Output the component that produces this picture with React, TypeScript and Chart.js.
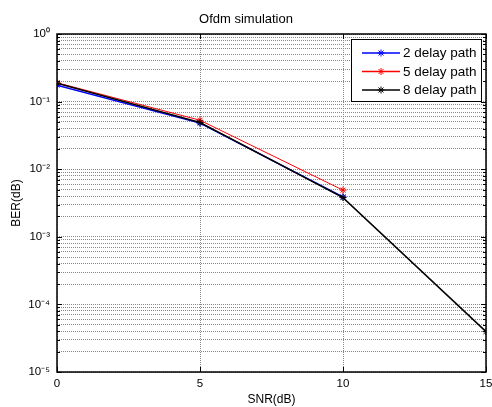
import React, { useEffect, useRef } from 'react';
import { Chart, registerables } from 'chart.js';

Chart.register(...registerables);

// ---- data ----
const snr = [0, 5, 10, 15];
const ber2 = [0.175, 0.048, 0.0039];
const ber5 = [0.19, 0.053, 0.0049];
const ber8 = [0.187, 0.049, 0.0038, 0.0000396];
const seriesLabels = ['2 delay path', '5 delay path', '8 delay path'];
const seriesColors = ['#0000ff', '#ff0000', '#000000'];
const xTickValues = [0, 5, 10, 15];
const yDecades = [1e-5, 1e-4, 1e-3, 1e-2, 1e-1, 1];
const yTickLabels = ['10\u207B\u2075', '10\u207B\u2074', '10\u207B\u00B3', '10\u207B\u00B2', '10\u207B\u00B9', '10\u2070'];
const minorMultipliers = [2, 3, 4, 5, 6, 7, 8, 9];

const FONT = "'Liberation Sans', Arial, sans-serif";

const toPoints = (vals: number[]) => vals.map((v, i) => ({ x: snr[i], y: v }));

const isDecade = (v: number) => yDecades.findIndex((d) => Math.abs(d - v) / d < 1e-6);

function drawStar(ctx: CanvasRenderingContext2D, x: number, y: number, r: number) {
  ctx.beginPath();
  ctx.moveTo(x - r, y); ctx.lineTo(x + r, y);
  ctx.moveTo(x, y - r); ctx.lineTo(x, y + r);
  const d = r * 0.7071;
  ctx.moveTo(x - d, y - d); ctx.lineTo(x + d, y + d);
  ctx.moveTo(x - d, y + d); ctx.lineTo(x + d, y - d);
  ctx.stroke();
}

const framePlugin = {
  id: 'frame',
  afterDraw(chart: any) {
    const { ctx, chartArea: a, scales } = chart;
    ctx.save();
    // inner tick marks
    ctx.strokeStyle = '#000';
    ctx.lineWidth = 1;
    ctx.setLineDash([]);
    scales.y.ticks.forEach((t: any) => {
      const py = Math.round(scales.y.getPixelForValue(t.value)) + 0.5;
      const len = isDecade(t.value) >= 0 ? 5 : 3;
      ctx.beginPath();
      ctx.moveTo(a.left, py); ctx.lineTo(a.left + len, py);
      ctx.moveTo(a.right, py); ctx.lineTo(a.right - len, py);
      ctx.stroke();
    });
    scales.x.ticks.forEach((t: any) => {
      const px = Math.round(scales.x.getPixelForValue(t.value)) + 0.5;
      ctx.beginPath();
      ctx.moveTo(px, a.bottom); ctx.lineTo(px, a.bottom - 5);
      ctx.moveTo(px, a.top); ctx.lineTo(px, a.top + 5);
      ctx.stroke();
    });
    // box
    ctx.lineWidth = 1.5;
    ctx.strokeRect(a.left, a.top, a.right - a.left, a.bottom - a.top);

    // legend
    const bx = 351.5, by = 39.5, bw = 130, bh = 62;
    ctx.fillStyle = '#fff';
    ctx.fillRect(bx, by, bw, bh);
    ctx.lineWidth = 1;
    ctx.strokeStyle = '#000';
    ctx.strokeRect(bx, by, bw, bh);
    ctx.font = `13.5px ${FONT}`;
    ctx.textBaseline = 'middle';
    ctx.textAlign = 'left';
    chart.data.datasets.forEach((ds: any, i: number) => {
      const y = 53 + i * 18.5;
      ctx.strokeStyle = ds.borderColor;
      ctx.lineWidth = 1.5;
      ctx.beginPath();
      ctx.moveTo(362, y); ctx.lineTo(400, y);
      ctx.stroke();
      ctx.lineWidth = 1;
      drawStar(ctx, 381, y, 3.5);
      ctx.fillStyle = '#000';
      ctx.fillText(ds.label, 403, y + 0.5);
    });
    ctx.restore();
  },
};

export default function App() {
  const ref = useRef<HTMLCanvasElement>(null);
  useEffect(() => {
    document.body.style.margin = '0';
    const data = [ber2, ber5, ber8];
    const chart = new Chart(ref.current!, {
      type: 'line',
      data: {
        datasets: data.map((vals, i) => ({
          label: seriesLabels[i],
          data: toPoints(vals),
          borderColor: seriesColors[i],
          backgroundColor: seriesColors[i],
          borderWidth: i === 1 ? 1 : 1.5,
          pointStyle: 'star',
          pointRadius: 3.5,
          pointBorderWidth: 1,
          pointBorderColor: seriesColors[i],
          fill: false,
          tension: 0,
          order: 3 - i,
        })),
      },
      options: {
        responsive: false,
        animation: false,
        layout: { padding: { left: 0, right: 0, top: 0, bottom: 0 } },
        plugins: {
          legend: { display: false },
          tooltip: { enabled: false },
          title: {
            display: true,
            text: 'Ofdm simulation',
            color: '#000',
            font: { family: FONT, size: 13, weight: 'normal' },
            padding: { top: 12, bottom: 6.4 },
          },
        },
        scales: {
          x: {
            type: 'linear',
            min: 0,
            max: 15,
            afterBuildTicks: (s: any) => { s.ticks = xTickValues.map((v) => ({ value: v })); },
            afterFit: (s: any) => { s.height = 35; s.paddingRight = 6; s.paddingLeft = 0; },
            ticks: { color: '#000', font: { family: FONT, size: 11.5 }, padding: 5, autoSkip: false, maxRotation: 0 },
            grid: { color: '#888', lineWidth: 1, drawTicks: false },
            border: { display: false, dash: [1, 1] },
            title: {
              display: true,
              text: 'SNR(dB)',
              color: '#000',
              font: { family: FONT, size: 12 },
              padding: { top: 0, bottom: 0 },
            },
          },
          y: {
            type: 'logarithmic',
            min: 1e-5,
            max: 1,
            afterBuildTicks: (s: any) => {
              const t: any[] = [];
              yDecades.forEach((d, i) => {
                t.push({ value: d });
                if (i < yDecades.length - 1) minorMultipliers.forEach((m) => t.push({ value: d * m }));
              });
              s.ticks = t;
            },
            afterFit: (s: any) => { s.width = 57; },
            ticks: {
              color: '#000',
              font: { family: FONT, size: 11.5 },
              padding: 7,
              autoSkip: false,
              callback: (v: any) => {
                const i = isDecade(Number(v));
                return i >= 0 ? yTickLabels[i] : '';
              },
            },
            grid: { color: '#888', lineWidth: 1, drawTicks: false },
            border: { display: false, dash: [1, 1] },
            title: {
              display: true,
              text: 'BER(dB)',
              color: '#000',
              font: { family: FONT, size: 12 },
              padding: { top: 9, bottom: 0 },
            },
          },
        },
      },
      plugins: [framePlugin],
    } as any);
    return () => chart.destroy();
  }, []);
  return (
    <div style={{ width: 492, height: 407 }}>
      <canvas ref={ref} width={492} height={407} />
    </div>
  );
}
